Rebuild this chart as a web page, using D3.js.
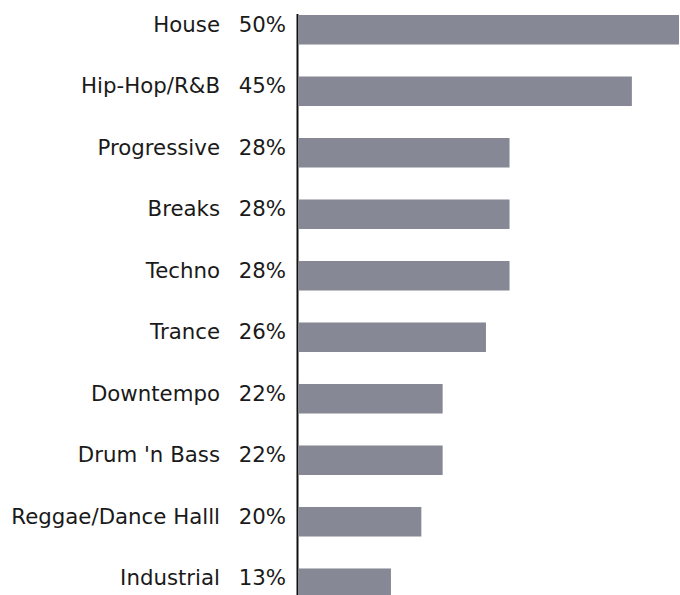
<!DOCTYPE html>
<html>
<head>
<meta charset="utf-8">
<script src="https://cdn.jsdelivr.net/npm/d3@7"></script>
<style>
    body { margin: 0; background: #fff; }
    text { font-family: "DejaVu Sans", sans-serif; font-size: 21.3px; fill: #1a1a1a; }
</style>
</head>
<body>
<div id="chart"></div>
<script>
//Genres, top to bottom
var genres = ['House', 'Hip-Hop/R&B', 'Progressive', 'Breaks', 'Techno', 'Trance',
    'Downtempo', "Drum 'n Bass", 'Reggae/Dance Halll', 'Industrial'];
//Bar lengths (percent)
var shares = [50, 43.8, 27.7, 27.7, 27.7, 24.6, 18.9, 18.9, 16.1, 12.1];
//Printed labels
var shareLabels = ['50%', '45%', '28%', '28%', '28%', '26%', '22%', '22%', '20%', '13%'];

var width = 680;
var height = 595;
var margin = {
    left: 299,
    top: 15,
    right: 1,
    bottom: -3
};

var data = genres.map(function(g, i) {
    return { genre: g, value: shares[i], label: shareLabels[i] };
});

var svg = d3.select('#chart').append('svg')
    .attr('width', width)
    .attr('height', height);

var x = d3.scaleLinear()
    .domain([0, 50])
    .range([margin.left, width - margin.right]);

var y = d3.scaleBand()
    .domain(genres)
    .range([margin.top, height - margin.bottom])
    .paddingInner(0.52)
    .paddingOuter(0);

//Bars
svg.selectAll('.bar').data(data)
    .enter().append('rect')
    .attr('class', 'bar')
    .attr('x', x(0))
    .attr('y', function(d) { return y(d.genre); })
    .attr('width', function(d) { return x(d.value) - x(0); })
    .attr('height', y.bandwidth())
    .attr('fill', '#878895');

//Vertical axis line
svg.append('line')
    .attr('x1', x(0) - 1.5)
    .attr('x2', x(0) - 1.5)
    .attr('y1', margin.top - 1)
    .attr('y2', height)
    .attr('stroke', '#111')
    .attr('stroke-width', 2);

//Genre names
svg.selectAll('.name').data(data)
    .enter().append('text')
    .attr('class', 'name')
    .attr('x', 220)
    .attr('y', function(d) { return y(d.genre) + y.bandwidth() / 2 + 2; })
    .attr('text-anchor', 'end')
    .text(function(d) { return d.genre; });

//Percent labels
svg.selectAll('.pct').data(data)
    .enter().append('text')
    .attr('class', 'pct')
    .attr('x', 286)
    .attr('y', function(d) { return y(d.genre) + y.bandwidth() / 2 + 2; })
    .attr('text-anchor', 'end')
    .text(function(d) { return d.label; });
</script>
</body>
</html>
